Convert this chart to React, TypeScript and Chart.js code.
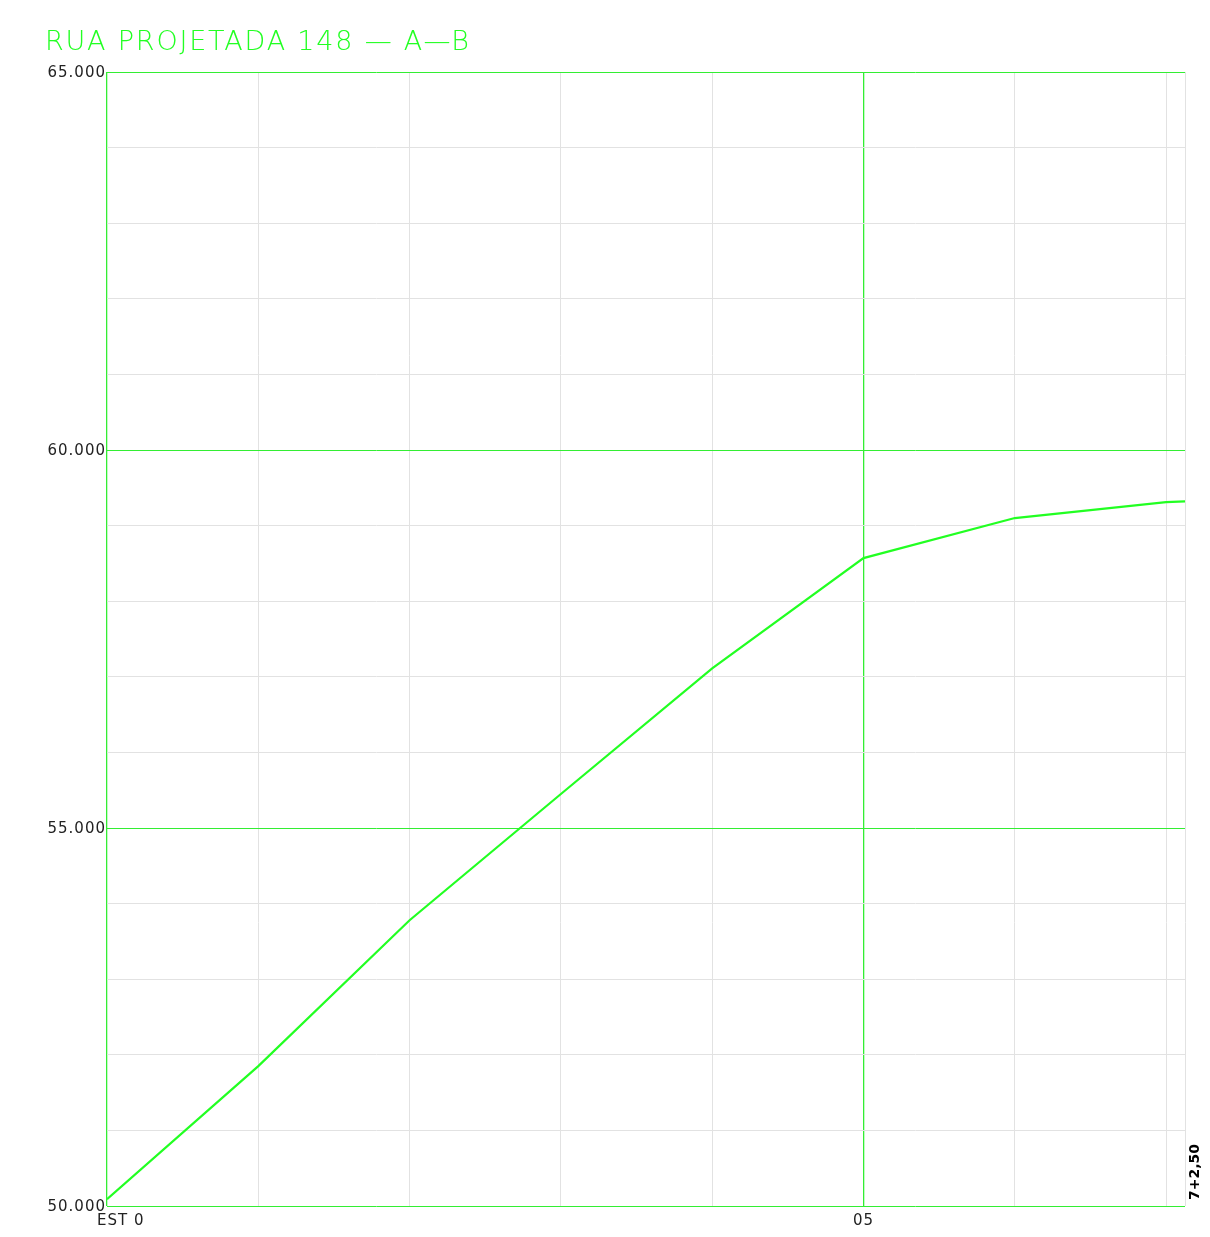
import React, { useEffect, useRef } from "react";
import { Chart, registerables } from "chart.js";

Chart.register(...registerables);

const TITLE = "RUA PROJETADA 148 — A—B";
const stations = [0, 1, 2, 3, 4, 5, 6, 7, 7.125];
const elevations = [50.09, 51.85, 53.78, 55.45, 57.11, 58.57, 59.1, 59.31, 59.32];
const xGridValues = [0, 1, 2, 3, 4, 5, 6, 7, 7.125];
const xGreenValues = [0, 5];
const yTickValues = [50, 55, 60, 65];
const yTickLabels = ["50.000", "55.000", "60.000", "65.000"];
const xLabelValues = [0, 5];
const xLabels = ["EST 0", "05"];
const endStation = 7.125;
const endLabel = "7+2,50";

const GREEN = "#22ff22";
const GRID_GREEN = "#33ee33";
const GRID_GRAY = "#e2e2e2";

const labelsPlugin = {
  id: "cadLabels",
  afterDraw(chart: any) {
    const ctx = chart.ctx;
    const xs = chart.scales.x;
    const ys = chart.scales.y;
    ctx.save();
    // title
    ctx.fillStyle = GREEN;
    ctx.font = "300 27px 'DejaVu Sans'";
    (ctx as any).letterSpacing = "1.8px";
    ctx.textAlign = "left";
    ctx.textBaseline = "alphabetic";
    ctx.fillText(TITLE, 45, 50);
    // y labels
    ctx.fillStyle = "#222222";
    ctx.font = "15px 'DejaVu Sans'";
    (ctx as any).letterSpacing = "1px";
    ctx.textAlign = "right";
    yTickValues.forEach((v, i) => {
      const y = ys.getPixelForValue(v);
      ctx.fillText(yTickLabels[i], xs.left - 1, y + 5);
    });
    // x labels
    xLabelValues.forEach((v, i) => {
      const x = xs.getPixelForValue(v);
      const t = xLabels[i];
      if (i === 0) {
        ctx.textAlign = "left";
        ctx.fillText(t, x - 10, ys.bottom + 19);
      } else {
        ctx.textAlign = "center";
        ctx.fillText(t, x, ys.bottom + 19);
      }
    });
    // end label rotated
    (ctx as any).letterSpacing = "0px";
    ctx.fillStyle = "#000000";
    ctx.font = "bold 14px 'DejaVu Sans'";
    const ex = xs.getPixelForValue(endStation);
    ctx.translate(ex + 14, ys.bottom - 6);
    ctx.rotate(-Math.PI / 2);
    ctx.textAlign = "left";
    ctx.textBaseline = "alphabetic";
    ctx.fillText(endLabel, 0, 0);
    ctx.restore();
  },
};

export default function App() {
  const ref = useRef<HTMLCanvasElement | null>(null);
  useEffect(() => {
    if (!ref.current) return;
    const chart = new Chart(ref.current, {
      type: "line",
      data: {
        datasets: [
          {
            data: stations.map((s, i) => ({ x: s, y: elevations[i] })),
            borderColor: GREEN,
            borderWidth: 2.2,
            pointRadius: 0,
            tension: 0,
            fill: false,
          },
        ],
      },
      options: {
        animation: false,
        responsive: false,
        maintainAspectRatio: false,
        layout: { padding: { left: 107, right: 25, top: 72, bottom: 31 } },
        plugins: { legend: { display: false }, tooltip: { enabled: false }, title: { display: false } },
        scales: {
          x: {
            type: "linear",
            min: 0,
            max: endStation,
            afterBuildTicks: (scale: any) => {
              scale.ticks = xGridValues.map((v) => ({ value: v }));
            },
            ticks: { display: false },
            border: { display: false },
            grid: {
              drawTicks: false,
              lineWidth: (c: any) => (xGreenValues.includes(xGridValues[c.index]) ? 1.3 : 1),
              color: (c: any) => {
                const v = xGridValues[c.index];
                return xGreenValues.includes(v) ? GRID_GREEN : GRID_GRAY;
              },
            },
          },
          y: {
            type: "linear",
            min: 50,
            max: 65,
            afterBuildTicks: (scale: any) => {
              const t = [];
              for (let v = 50; v <= 65; v++) t.push({ value: v });
              scale.ticks = t;
            },
            ticks: { display: false },
            border: { display: false },
            grid: {
              drawTicks: false,
              lineWidth: 1,
              color: (c: any) => {
                const v = c.tick ? c.tick.value : null;
                return v !== null && v % 5 === 0 ? GRID_GREEN : GRID_GRAY;
              },
            },
          },
        },
      } as any,
      plugins: [labelsPlugin],
    });
    return () => chart.destroy();
  }, []);
  return (
    <div style={{ position: "absolute", left: 0, top: 0, width: 1210, height: 1237, background: "#fff" }}>
      <canvas ref={ref} width={1210} height={1237} style={{ width: 1210, height: 1237, display: "block" }} />
    </div>
  );
}
